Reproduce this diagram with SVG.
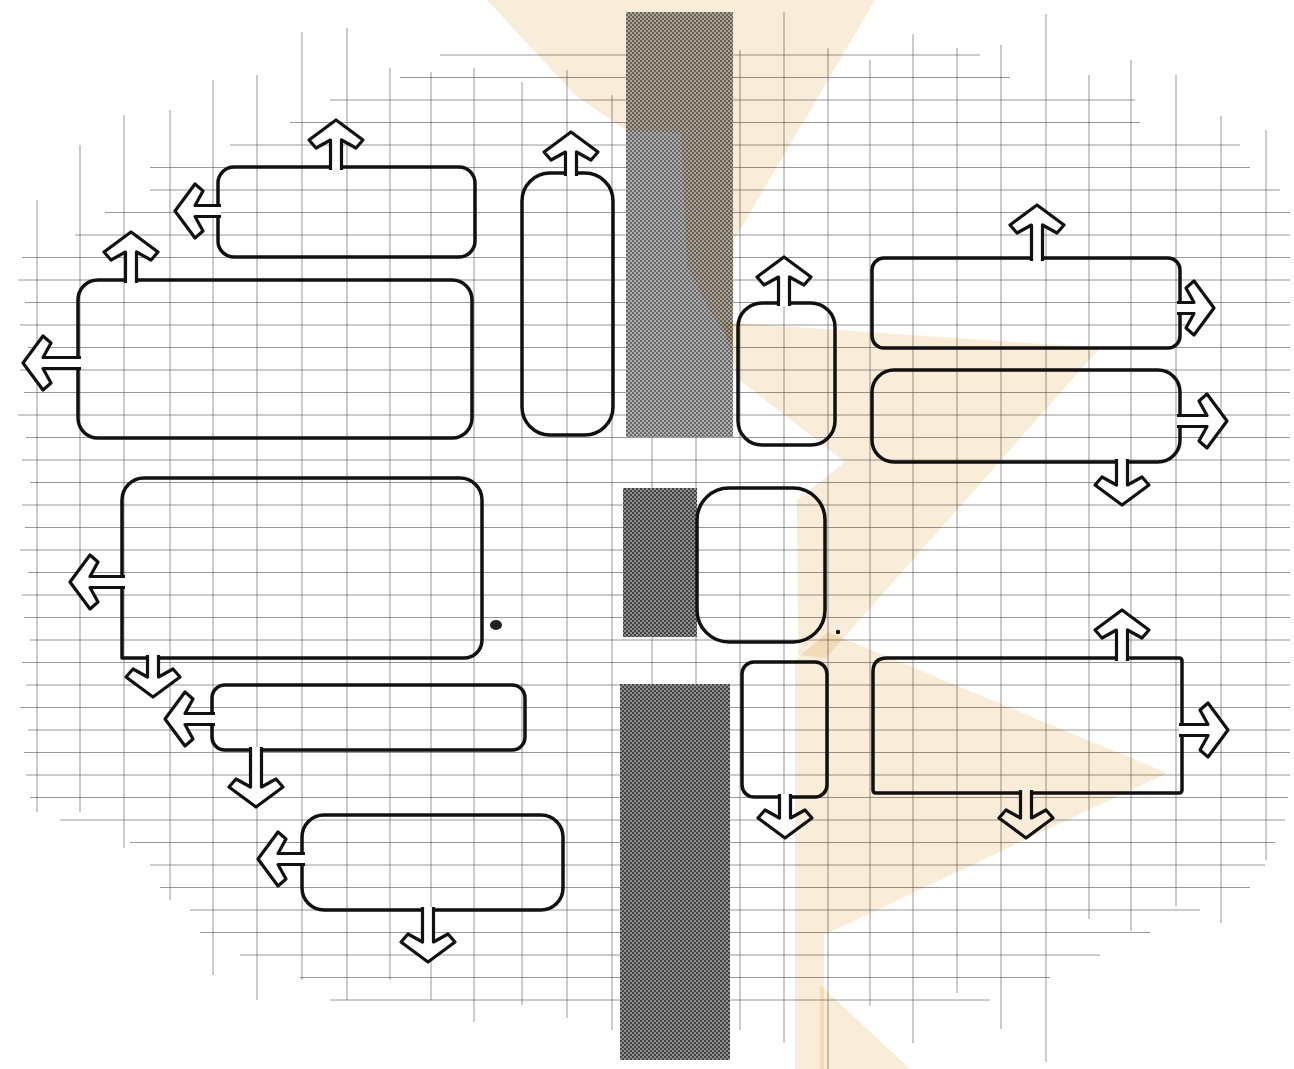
<svg xmlns="http://www.w3.org/2000/svg" width="1294" height="1069" viewBox="0 0 1294 1069">
<style>
.grid{fill:none;stroke:#555;stroke-width:1;opacity:.6}
.box{fill:none;stroke:#111;stroke-width:3.5;stroke-linejoin:round}
.arr{fill:#fff;stroke:#111;stroke-width:3.2;stroke-linejoin:round}
.wm{fill:#f9ecd8;mix-blend-mode:multiply}
</style>
<defs>
<pattern id="htLight" width="4" height="4" patternUnits="userSpaceOnUse"><rect width="4" height="4" fill="#b0b0b0"/><circle cx="1" cy="1" r="1" fill="#505050"/><circle cx="3" cy="3" r="1" fill="#505050"/></pattern>
<pattern id="htDark" width="4" height="4" patternUnits="userSpaceOnUse"><rect width="4" height="4" fill="#909090"/><circle cx="1" cy="1" r="1.05" fill="#383838"/><circle cx="3" cy="3" r="1.05" fill="#383838"/></pattern>
</defs>
<rect width="1294" height="1069" fill="#fff"/>
<g id="grid">
<path class="grid" d="M37,200V812M80,145V812M124,115V848M170,110V900M213,80V975M257,75V1000M302,32V980M347,28V1000M390,68V980M431,72V1000M474,68V1022M522,82V1005M567,70V1018M612,95V1030M652,20V1060M696,20V1060M740,50V1030M784,12V1043M828,48V1069M870,60V1006M913,34V1043M957,48V993M1001,45V1029M1046,14V1062M1089,75V919M1131,60V931M1176,75V906M1221,116V923M1266,130V860"/>
<path class="grid" d="M440,55H980M400,77.5H1010M330,100H1135M290,122.5H1140M230,145H1240M150,167.5H1250M150,190H1280M105,212.5H1290M75,235H1290M22,257.5H1290M18,280H1290M25,302.5H1290M20,325H1290M28,347.5H1290M20,370H1290M24,392.5H1290M18,415H1290M26,437.5H1290M22,460H1290M30,482.5H1290M22,505H1290M25,527.5H1290M20,550H1290M28,572.5H1290M22,595H1290M24,617.5H1290M30,640H1290M22,662.5H1290M26,685H1290M20,707.5H1290M28,730H1290M24,752.5H1290M26,775H1290M30,797.5H1288M60,820H1285M130,842.5H1275M150,865H1265M160,887.5H1250M190,910H1200M200,932.5H1150M240,955H1100M300,977.5H1050M330,1000H990"/>
</g>
<g id="bands">
<rect x="626" y="12" width="107" height="425" fill="url(#htLight)"/>
<rect x="623" y="488" width="74" height="149" fill="url(#htDark)"/>
<rect x="620" y="684" width="110" height="376" fill="url(#htDark)"/>
</g>
<g id="node-a"><rect class="box" x="218" y="167" width="257" height="90" rx="16"/></g>
<g id="node-b"><rect class="box" x="78" y="280" width="394" height="158" rx="20"/></g>
<g id="node-c"><rect class="box" x="522" y="173" width="91" height="262" rx="28"/></g>
<g id="node-d"><rect class="box" x="738" y="303" width="97" height="142" rx="24"/></g>
<g id="node-e"><rect class="box" x="872" y="258" width="308" height="90" rx="12"/></g>
<g id="node-f"><rect class="box" x="872" y="370" width="308" height="92" rx="22"/></g>
<g id="node-g"><rect class="box" x="697" y="488" width="128" height="154" rx="32"/></g>
<g id="node-h"><rect class="box" x="742" y="662" width="85" height="135" rx="12"/></g>
<g id="node-i"><path class="box" d="M887,658H1179Q1182,658 1182,661V790Q1182,793 1179,793H876Q873,793 873,790V672Q873,658 887,658Z"/></g>
<g id="node-j"><path class="box" d="M144,478H460A22,22 0 0 1 482,500V640A18,18 0 0 1 464,658H122V500A22,22 0 0 1 144,478Z"/></g>
<g id="node-k"><rect class="box" x="212" y="685" width="313" height="65" rx="13"/></g>
<g id="node-l"><rect class="box" x="302" y="815" width="261" height="95" rx="22"/></g>
<g id="connectors">
<path class="arr" transform="translate(336,167)" d="M-5.5,3V-27L-20,-19L-27,-27L0,-47L27,-27L20,-19L5.5,-27V3"/>
<path class="arr" transform="translate(218,211) rotate(-90)" d="M-5.5,3V-23L-20,-15L-27,-23L0,-43L27,-23L20,-15L5.5,-23V3"/>
<path class="arr" transform="translate(131,280)" d="M-5.5,3V-28L-20,-20L-27,-28L0,-48L27,-28L20,-20L5.5,-28V3"/>
<path class="arr" transform="translate(78,363) rotate(-90)" d="M-5.5,3V-35L-20,-27L-27,-35L0,-55L27,-35L20,-27L5.5,-35V3"/>
<path class="arr" transform="translate(571,173)" d="M-5.5,3V-21L-20,-13L-27,-21L0,-41L27,-21L20,-13L5.5,-21V3"/>
<path class="arr" transform="translate(784,303)" d="M-5.5,3V-26L-20,-18L-27,-26L0,-46L27,-26L20,-18L5.5,-26V3"/>
<path class="arr" transform="translate(1037,258)" d="M-5.5,3V-33L-20,-25L-27,-33L0,-53L27,-33L20,-25L5.5,-33V3"/>
<path class="arr" transform="translate(1180,308) rotate(90)" d="M-5.5,3V-14L-20,-6L-27,-14L0,-34L27,-14L20,-6L5.5,-14V3"/>
<path class="arr" transform="translate(1180,421) rotate(90)" d="M-5.5,3V-27L-20,-19L-27,-27L0,-47L27,-27L20,-19L5.5,-27V3"/>
<path class="arr" transform="translate(1122,462) rotate(180)" d="M-5.5,3V-23L-20,-15L-27,-23L0,-43L27,-23L20,-15L5.5,-23V3"/>
<path class="arr" transform="translate(785,797) rotate(180)" d="M-5.5,3V-21L-20,-13L-27,-21L0,-41L27,-21L20,-13L5.5,-21V3"/>
<path class="arr" transform="translate(1122,658)" d="M-5.5,3V-28L-20,-20L-27,-28L0,-48L27,-28L20,-20L5.5,-28V3"/>
<path class="arr" transform="translate(1182,730) rotate(90)" d="M-5.5,3V-26L-20,-18L-27,-26L0,-46L27,-26L20,-18L5.5,-26V3"/>
<path class="arr" transform="translate(1026,793) rotate(180)" d="M-5.5,3V-25L-20,-17L-27,-25L0,-45L27,-25L20,-17L5.5,-25V3"/>
<path class="arr" transform="translate(122,582) rotate(-90)" d="M-5.5,3V-32L-20,-24L-27,-32L0,-52L27,-32L20,-24L5.5,-32V3"/>
<path class="arr" transform="translate(153,658) rotate(180)" d="M-5.5,3V-19L-20,-11L-27,-19L0,-39L27,-19L20,-11L5.5,-19V3"/>
<path class="arr" transform="translate(212,719) rotate(-90)" d="M-5.5,3V-27L-20,-19L-27,-27L0,-47L27,-27L20,-19L5.5,-27V3"/>
<path class="arr" transform="translate(256,750) rotate(180)" d="M-5.5,3V-37L-20,-29L-27,-37L0,-57L27,-37L20,-29L5.5,-37V3"/>
<path class="arr" transform="translate(302,859) rotate(-90)" d="M-5.5,3V-24L-20,-16L-27,-24L0,-44L27,-24L20,-16L5.5,-24V3"/>
<path class="arr" transform="translate(428,910) rotate(180)" d="M-5.5,3V-32L-20,-24L-27,-32L0,-52L27,-32L20,-24L5.5,-32V3"/>
</g>
<g id="marks">
<ellipse cx="496" cy="625" rx="6" ry="5" fill="#222"/>
<circle cx="838" cy="632" r="2.2" fill="#111"/>
</g>
<g id="watermark">
<polygon class="wm" points="487,0 875,0 734,240 733,345 713,317 687,267 681,133 627,131 575,95"/>
<polygon class="wm" points="722,322 1100,348 826,658 798,655 797,500 845,462 737,378"/>
<polygon class="wm" points="828,632 1167,773 824,935 824,1069 795,1069 795,660"/>
<polygon class="wm" points="820,985 910,1069 820,1069"/>
</g>
</svg>
